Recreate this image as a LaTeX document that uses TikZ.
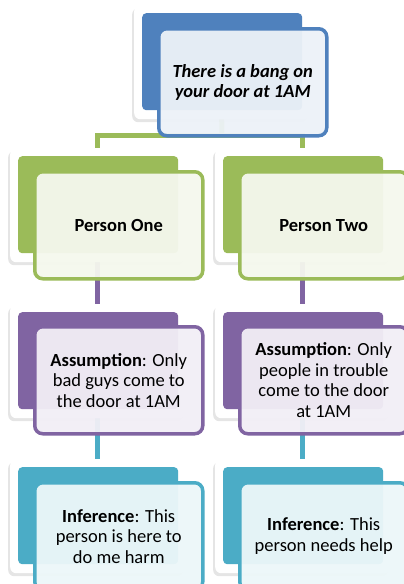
\documentclass[tikz,border=0pt]{standalone}
\usepackage{fontspec}
\setmainfont{Carlito}
\usepackage{tikz}
\usetikzlibrary{shadows}
\definecolor{bangblue}{HTML}{4F81BD}
\definecolor{persongreen}{HTML}{9BBB59}
\definecolor{assumpurple}{HTML}{8064A2}
\definecolor{infercyan}{HTML}{4BACC6}
\pgfdeclarelayer{background}
\pgfsetlayers{background,main}

\tikzset{
  card/.style={fill=white, rounded corners=6pt, minimum width=175pt, minimum height=114pt,
    anchor=north west, inner sep=0pt, drop shadow={opacity=0.2, shadow xshift=-2pt, shadow yshift=-3pt}},
  tab/.style={fill=#1, rounded corners=4pt, minimum width=160pt, minimum height=97pt,
    anchor=north west, inner sep=0pt},
  front/.style={draw=#1, line width=3.5pt, fill=#1!10, fill opacity=0.95, text opacity=1,
    rounded corners=8pt, minimum width=168pt, minimum height=107pt, anchor=north west,
    align=center, inner sep=0pt, font=\fontsize{18.5pt}{20.5pt}\selectfont},
  link/.style={draw=#1, line width=5pt}
}

\begin{document}
\begin{tikzpicture}[x=1pt,y=-1pt]
\clip (0,0) rectangle (404,584);
\begin{pgfonlayer}{background}
\fill[white] (0,0) rectangle (404,584);
\end{pgfonlayer}
\coordinate (fork) at (222,135);
% cards that carry the shadows
\node (bangcard) at (134,5) [card] {};
\node (onecard) at (10,148) [card] {};
\node (twocard) at (215,148) [card] {};
\node (assonecard) at (10,304) [card] {};
\node (asstwocard) at (215,304) [card] {};
\node (infonecard) at (10,459) [card] {};
\node (inftwocard) at (215,459) [card] {};
% connectors
\begin{pgfonlayer}{background}
\draw[link=persongreen] (bangcard.south) -- (fork);
\draw[link=persongreen] (onecard.north) |- (fork) -| (twocard.north);
\draw[link=assumpurple] (onecard.south) -- (assonecard.north);
\draw[link=assumpurple] (twocard.south) -- (asstwocard.north);
\draw[link=infercyan] (assonecard.south) -- (infonecard.north);
\draw[link=infercyan] (asstwocard.south) -- (inftwocard.north);
\end{pgfonlayer}
% coloured tabs
\node (bangtab) at (142,13) [tab=bangblue] {};
\node (onetab) at (18,156) [tab=persongreen] {};
\node (twotab) at (223,156) [tab=persongreen] {};
\node (assonetab) at (18,312) [tab=assumpurple] {};
\node (asstwotab) at (223,312) [tab=assumpurple] {};
\node (infonetab) at (18,467) [tab=infercyan] {};
\node (inftwotab) at (223,467) [tab=infercyan] {};
% front boxes with the texts
\node (bang) at (157,27) [front=bangblue] {\bfseries\itshape There is a bang on\\ \bfseries\itshape your door at 1AM};
\node (one) at (33,170) [front=persongreen] {\bfseries Person One};
\node (two) at (238,170) [front=persongreen] {\bfseries Person Two};
\node (assone) at (33,325) [front=assumpurple] {\textbf{Assumption}: Only\\bad guys come to\\the door at 1AM};
\node (asstwo) at (238,325) [front=assumpurple] {\textbf{Assumption}: Only\\people in trouble\\come to the door\\at 1AM};
\node (infone) at (33,481) [front=infercyan] {\textbf{Inference}: This\\person is here to\\do me harm};
\node (inftwo) at (238,481) [front=infercyan] {\textbf{Inference}: This\\person needs help};
\end{tikzpicture}
\end{document}
